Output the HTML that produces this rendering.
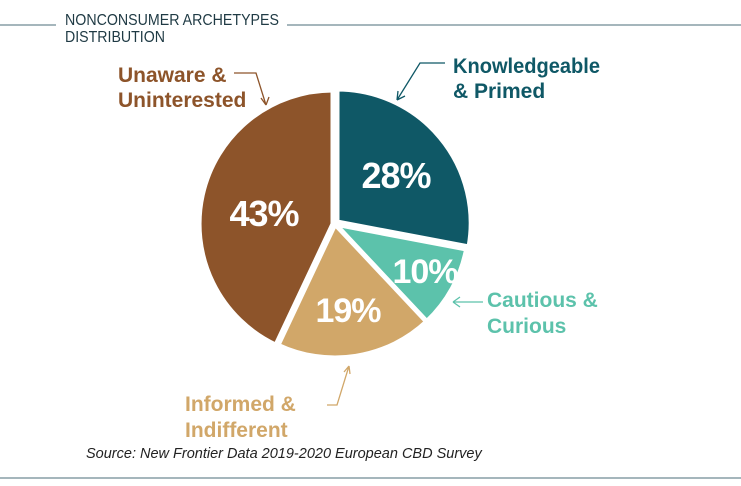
<html><head><style>body{margin:0;background:#fff;width:741px;height:486px;overflow:hidden;font-family:"Liberation Sans",sans-serif}</style></head><body>
<svg width="741" height="486" xmlns="http://www.w3.org/2000/svg">
<line x1="0" y1="25" x2="56" y2="25" stroke="#6f8a93" stroke-width="1.3"/>
<line x1="287" y1="25" x2="741" y2="25" stroke="#6f8a93" stroke-width="1.3"/>
<text x="65" y="25" font-size="16" fill="#1f3a44" textLength="214" lengthAdjust="spacingAndGlyphs">NONCONSUMER ARCHETYPES</text>
<text x="65" y="42" font-size="16" fill="#1f3a44" textLength="100" lengthAdjust="spacingAndGlyphs">DISTRIBUTION</text>
<g stroke="#fff" stroke-width="5" stroke-linejoin="miter">
<path d="M337,222 L337,89 A134,134 0 0 1 469,247 Z" fill="#0f5866"/>
<path d="M335,224 L466.6,249.1 A134,134 0 0 1 426.7,321.7 Z" fill="#5cc2ab"/>
<path d="M335,224 L426.7,321.7 A134,134 0 0 1 277.9,345.2 Z" fill="#d1a769"/>
<path d="M333,224 L275.9,345.2 A134,134 0 0 1 333,90 Z" fill="#8d542a"/>
</g>
<g font-weight="bold" fill="#fff" font-size="36" text-anchor="middle" letter-spacing="-1">
<text x="396" y="188">28%</text>
<text x="264" y="226">43%</text>
<text x="425" y="283" font-size="34">10%</text>
<text x="348" y="322" font-size="34">19%</text>
</g>
<g font-weight="bold" font-size="21">
<text x="453" y="73" fill="#0f5866" textLength="147" lengthAdjust="spacingAndGlyphs">Knowledgeable</text>
<text x="453" y="98" fill="#0f5866">&amp; Primed</text>
<text x="118" y="82" fill="#8d542a">Unaware &amp;</text>
<text x="118" y="107" fill="#8d542a">Uninterested</text>
<text x="487" y="307" fill="#5cc2ab">Cautious &amp;</text>
<text x="487" y="333" fill="#5cc2ab">Curious</text>
<text x="185" y="411" fill="#d1a769">Informed &amp;</text>
<text x="185" y="437" fill="#d1a769">Indifferent</text>
</g>
<g fill="none" stroke-width="1.3">
<path d="M445,63 L420,63 L397,100 M397,100 l1,-9 M397,100 l8,-4" stroke="#0f5866"/>
<path d="M234,73 L256,73 L266,105 M266,105 l-5,-7 M266,105 l3,-8" stroke="#8d542a"/>
<path d="M483,302 L453,302 M453,302 l7,-5 M453,302 l7,5" stroke="#5cc2ab"/>
<path d="M327,405 L337,405 L349,366 M349,366 l-5,6 M349,366 l1,8" stroke="#d1a769"/>
</g>
<text x="86" y="458" font-size="14.5" font-style="italic" fill="#222">Source: New Frontier Data 2019-2020 European CBD Survey</text>
<line x1="0" y1="478" x2="741" y2="478" stroke="#6f8a93" stroke-width="1.3"/>
</svg>
</body></html>
